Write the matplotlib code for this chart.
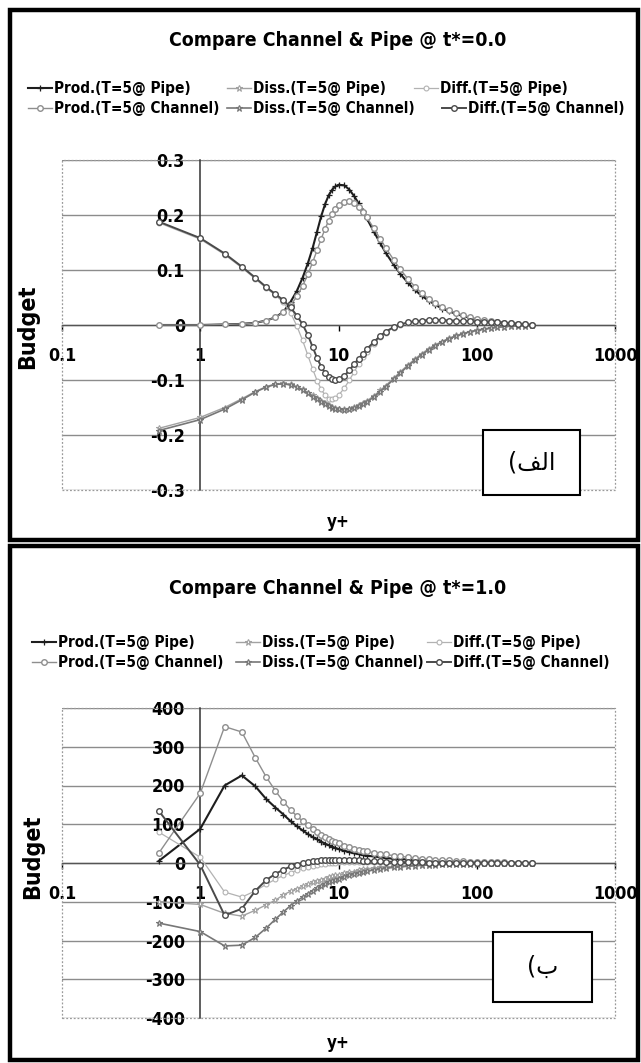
import matplotlib
matplotlib.use("Agg")
import matplotlib.pyplot as plt
from matplotlib.lines import Line2D
from matplotlib.patches import Rectangle
from matplotlib.ticker import NullLocator
from matplotlib.font_manager import FontProperties
from matplotlib.textpath import TextPath
from matplotlib import font_manager as fm

W, H, DPI = 641, 1063, 100

# ---------------------------------------------------------------- data
yplus = [0.5, 1.0, 1.5, 2.0, 2.5, 3.0, 3.5, 4.0, 4.5, 5.0,
         5.5, 6.0, 6.5, 7.0, 7.5, 8.0, 8.5, 9.0, 9.5, 10.0,
         11, 12, 13, 14, 15, 16, 18, 20, 22, 25,
         28, 32, 36, 40, 45, 50, 56, 63, 71, 80,
         90, 100, 112, 126, 141, 158, 178, 200, 224, 250]

# budget terms at t* = 0.0
prod_pipe_t0 = [0.000, 0.000, 0.001, 0.002, 0.004, 0.008, 0.014, 0.024, 0.042, 0.062,
                0.086, 0.112, 0.140, 0.170, 0.198, 0.220, 0.236, 0.246, 0.252, 0.255,
                0.254, 0.246, 0.234, 0.221, 0.207, 0.194, 0.170, 0.149, 0.131, 0.110,
                0.093, 0.076, 0.063, 0.053, 0.044, 0.037, 0.030, 0.025, 0.020, 0.016,
                0.013, 0.010, 0.008, 0.006, 0.005, 0.004, 0.003, 0.002, 0.001, 0.000]
diss_pipe_t0 = [-0.188, -0.168, -0.150, -0.134, -0.121, -0.112, -0.107, -0.106, -0.108, -0.112,
                -0.117, -0.123, -0.128, -0.133, -0.138, -0.142, -0.146, -0.149, -0.151, -0.152,
                -0.153, -0.152, -0.149, -0.146, -0.142, -0.138, -0.129, -0.119, -0.110, -0.097,
                -0.085, -0.072, -0.061, -0.052, -0.043, -0.036, -0.030, -0.024, -0.019, -0.015,
                -0.012, -0.009, -0.007, -0.005, -0.004, -0.003, -0.002, -0.001, -0.001, 0.000]
diff_pipe_t0 = [0.186, 0.156, 0.128, 0.104, 0.084, 0.067, 0.054, 0.041, 0.022, -0.002,
                -0.028, -0.055, -0.080, -0.101, -0.117, -0.128, -0.134, -0.135, -0.133, -0.128,
                -0.115, -0.100, -0.085, -0.071, -0.059, -0.049, -0.034, -0.022, -0.014, -0.005,
                0.000, 0.004, 0.006, 0.007, 0.008, 0.008, 0.008, 0.008, 0.007, 0.007,
                0.006, 0.006, 0.005, 0.005, 0.004, 0.004, 0.003, 0.002, 0.001, 0.000]
prod_chan_t0 = [0.000, 0.000, 0.001, 0.002, 0.004, 0.008, 0.014, 0.023, 0.036, 0.052,
                0.071, 0.092, 0.114, 0.136, 0.157, 0.175, 0.190, 0.202, 0.211, 0.218,
                0.224, 0.225, 0.221, 0.214, 0.205, 0.196, 0.176, 0.157, 0.140, 0.119,
                0.101, 0.083, 0.069, 0.058, 0.048, 0.040, 0.033, 0.027, 0.022, 0.018,
                0.014, 0.011, 0.009, 0.007, 0.005, 0.004, 0.003, 0.002, 0.001, 0.000]
diss_chan_t0 = [-0.192, -0.172, -0.153, -0.136, -0.122, -0.113, -0.108, -0.107, -0.109, -0.113,
                -0.118, -0.124, -0.130, -0.135, -0.140, -0.144, -0.147, -0.150, -0.152, -0.153,
                -0.154, -0.153, -0.151, -0.148, -0.144, -0.140, -0.131, -0.121, -0.112, -0.099,
                -0.087, -0.074, -0.063, -0.054, -0.045, -0.038, -0.031, -0.025, -0.020, -0.016,
                -0.012, -0.010, -0.008, -0.006, -0.004, -0.003, -0.002, -0.001, -0.001, 0.000]
diff_chan_t0 = [0.188, 0.158, 0.130, 0.106, 0.086, 0.069, 0.056, 0.045, 0.032, 0.017,
                0.001, -0.018, -0.040, -0.060, -0.076, -0.087, -0.095, -0.099, -0.100, -0.099,
                -0.093, -0.082, -0.071, -0.061, -0.052, -0.044, -0.031, -0.020, -0.012, -0.004,
                0.001, 0.005, 0.007, 0.008, 0.009, 0.009, 0.009, 0.008, 0.008, 0.007,
                0.007, 0.006, 0.006, 0.005, 0.005, 0.004, 0.003, 0.002, 0.001, 0.000]

# budget terms at t* = 1.0
prod_pipe_t1 = [5, 88, 200, 226, 198, 165, 143, 125, 108, 95,
                84, 75, 67, 61, 55, 50, 46, 42, 39, 36,
                32, 28, 25, 23, 21, 19, 17, 15, 13, 11,
                10, 9, 8, 7, 6, 5, 4.5, 4, 3.5, 3,
                2.5, 2, 1.7, 1.4, 1.1, 0.9, 0.7, 0.5, 0.3, 0]
diss_pipe_t1 = [-100, -107, -130, -137, -122, -108, -96, -82, -73, -66,
                -60, -55, -50, -46, -43, -40, -37, -34, -32, -30,
                -27, -24, -22, -18, -16.5, -15, -13, -11.5, -10.5, -9,
                -8, -6.5, -5.5, -4.8, -4, -3.4, -2.9, -2.4, -2, -1.6,
                -1.3, -1.0, -0.8, -0.6, -0.5, -0.4, -0.3, -0.2, -0.1, 0]
diff_pipe_t1 = [80, 15, -75, -88, -72, -55, -42, -32, -25, -19,
                -14, -10, -7, -5, -3, -2, -1, 0, 1, 1.5,
                2, 2.5, 3, 3, 3, 3, 3, 3, 2.5, 2.5,
                2, 2, 1.5, 1.5, 1.2, 1, 0.8, 0.6, 0.5, 0.4,
                0.3, 0.2, 0.2, 0.1, 0.1, 0.1, 0, 0, 0, 0]
prod_chan_t1 = [25, 180, 352, 338, 272, 222, 186, 158, 137, 121,
                108, 97, 88, 80, 73, 68, 63, 58, 54, 51,
                45, 41, 37, 34, 32, 30, 27, 24, 22, 19,
                17, 15, 13, 11.5, 10, 8.5, 7.5, 6.5, 5.5, 4.5,
                3.8, 3.2, 2.6, 2.1, 1.7, 1.3, 1.0, 0.7, 0.4, 0]
diss_chan_t1 = [-155, -177, -214, -212, -192, -168, -145, -126, -110, -98,
                -88, -79, -71, -65, -59, -54, -50, -46, -43, -40,
                -35, -31, -28, -25, -23, -21, -18, -15.5, -13.5, -11.5,
                -10, -8.3, -7, -6, -5, -4.3, -3.6, -3, -2.5, -2,
                -1.6, -1.3, -1.0, -0.8, -0.6, -0.5, -0.4, -0.3, -0.1, 0]
diff_chan_t1 = [135, -5, -135, -118, -72, -44, -28, -17, -9, -4,
                0, 3, 5, 6, 7, 8, 8, 8, 8, 8,
                8, 7.5, 7, 6.5, 6, 5.5, 5, 4, 3.5, 3,
                2.5, 2, 1.7, 1.5, 1.2, 1, 0.8, 0.6, 0.5, 0.4,
                0.3, 0.2, 0.2, 0.1, 0.1, 0.1, 0, 0, 0, 0]

series_labels = ["Prod.(T=5@ Pipe)", "Diss.(T=5@ Pipe)", "Diff.(T=5@ Pipe)",
                 "Prod.(T=5@ Channel)", "Diss.(T=5@ Channel)", "Diff.(T=5@ Channel)"]

titles = ["Compare Channel & Pipe @ t*=0.0", "Compare Channel & Pipe @ t*=1.0"]
x_ticks = [0.1, 1, 10, 100, 1000]
x_tick_labels = ["0.1", "1", "10", "100", "1000"]
y_ticks_t0 = [-0.3, -0.2, -0.1, 0.0, 0.1, 0.2, 0.3]
y_tick_labels_t0 = ["-0.3", "-0.2", "-0.1", "0", "0.1", "0.2", "0.3"]
y_ticks_t1 = [-400, -300, -200, -100, 0, 100, 200, 300, 400]
y_tick_labels_t1 = ["-400", "-300", "-200", "-100", "0", "100", "200", "300", "400"]
panel_tags = ["(\uFED2\uFEDF\uFE8D", "(\uFE8F"]   # visual forms of "الف)" and "ب)"


# ---------------------------------------------------------------- fonts
def _weight(f):
    if isinstance(f.weight, int):
        return f.weight
    return {"bold": 700, "heavy": 800, "black": 900, "semibold": 600, "demibold": 600}.get(str(f.weight).lower(), 400)


def narrow_bold_font():
    """A bold, narrow sans face if one is installed, else Liberation Sans Bold."""
    entries = fm.fontManager.ttflist
    for f in entries:
        if f.name == "Liberation Sans Narrow" and _weight(f) >= 700 and f.style == "normal":
            return FontProperties(fname=f.fname)
    for fam in ["Noto Sans", "DejaVu Sans", "Open Sans", "Roboto", "Lato"]:
        for want in ("condensed", "semi-condensed"):
            for f in entries:
                if (f.name == fam and str(f.stretch) == want and f.style == "normal"
                        and 700 <= _weight(f) < 800):
                    return FontProperties(fname=f.fname)
    return FontProperties(family="Liberation Sans", weight="bold")


BASE_FP = narrow_bold_font()


def fitted(text, width_px):
    """Font properties whose rendering of `text` is about `width_px` wide."""
    w = TextPath((0, 0), text, size=10, prop=BASE_FP).get_extents().width * DPI / 72.0
    fp = BASE_FP.copy()
    fp.set_size(10 * width_px / w)
    return fp


FP_TITLE = fitted("Compare Channel & Pipe @ t*=0.0", 335)
FP_LEGEND = fitted("Prod.(T=5@ Channel)", 163)
FP_TICK = fitted("1000", 42)
FP_BUDGET = fitted("Budget", 82)
FP_XLABEL = fitted("y+", 21)

styles = {
    "Prod.(T=5@ Pipe)":    dict(color="#1e1e1e", marker="+", ms=4.5, mew=0.9, lw=1.5, mfc="none"),
    "Diss.(T=5@ Pipe)":    dict(color="#a2a2a2", marker="*", ms=5.0, mew=0.8, lw=1.0, mfc="white"),
    "Diff.(T=5@ Pipe)":    dict(color="#b2b2b2", marker="o", ms=3.5, mew=0.8, lw=0.9, mfc="white"),
    "Prod.(T=5@ Channel)": dict(color="#8e8e8e", marker="o", ms=4.0, mew=1.0, lw=1.0, mfc="white"),
    "Diss.(T=5@ Channel)": dict(color="#777777", marker="*", ms=5.0, mew=0.8, lw=1.2, mfc="#cfcfcf"),
    "Diff.(T=5@ Channel)": dict(color="#4a4a4a", marker="o", ms=4.0, mew=1.0, lw=1.4, mfc="white"),
}


def fx(x):
    return x / W


def fy(y):
    return 1 - y / H


panels = [
    dict(border=(10, 10, 638, 540), title_y=40, rows=(88, 108),
         legend_x=[(28, 28), (227, 227), (414, 442)],
         axes=(62, 160, 615, 490), budget=(28, 327), xlabel_y=522,
         box=(483, 430, 580, 495),
         data=[prod_pipe_t0, diss_pipe_t0, diff_pipe_t0, prod_chan_t0, diss_chan_t0, diff_chan_t0],
         yticks=y_ticks_t0, ylabels=y_tick_labels_t0, ylim=(-0.3, 0.3)),
    dict(border=(10, 546, 638, 1060), title_y=588, rows=(642, 662),
         legend_x=[(32, 32), (236, 236), (427, 427)],
         axes=(62, 708, 615, 1018), budget=(33, 857), xlabel_y=1043,
         box=(493, 932, 592, 1002),
         data=[prod_pipe_t1, diss_pipe_t1, diff_pipe_t1, prod_chan_t1, diss_chan_t1, diff_chan_t1],
         yticks=y_ticks_t1, ylabels=y_tick_labels_t1, ylim=(-400, 400)),
]

fig = plt.figure(figsize=(W / DPI, H / DPI), dpi=DPI)
fig.patch.set_facecolor("white")

for k, p in enumerate(panels):
    x0, y0, x1, y1 = p["axes"]
    ax = fig.add_axes([fx(x0), fy(y1), (x1 - x0) / W, (y1 - y0) / H])
    ax.set_facecolor("white")
    ax.set_xscale("log")

    # axes cross at y+ = 1 and budget = 0
    ax.spines["left"].set_position(("data", 1))
    ax.spines["left"].set_color("#333333")
    ax.spines["left"].set_linewidth(1.1)
    ax.spines["bottom"].set_position(("data", 0))
    ax.spines["bottom"].set_color("#555555")
    ax.spines["bottom"].set_linewidth(1.0)
    for s in ("top", "right"):
        ax.spines[s].set_visible(False)

    for name, vals in zip(series_labels, p["data"]):
        st = styles[name]
        ax.plot(yplus, vals, color=st["color"], lw=st["lw"], marker=st["marker"],
                ms=st["ms"], mew=st["mew"], mfc=st["mfc"], mec=st["color"], zorder=3)

    ax.set_xlim(0.1, 1000)
    ax.set_ylim(*p["ylim"])
    ax.set_yticks(p["yticks"])
    ax.set_yticklabels(p["ylabels"])
    ax.set_xticks(x_ticks)
    ax.set_xticklabels(x_tick_labels)
    ax.xaxis.set_minor_locator(NullLocator())
    ax.yaxis.set_minor_locator(NullLocator())
    ax.yaxis.grid(True, color="#8c8c8c", lw=1.0, zorder=0)
    ax.set_axisbelow(True)
    ax.tick_params(axis="y", length=0, pad=11, colors="black")
    ax.tick_params(axis="x", length=4, width=1, direction="out", pad=12, colors="black")
    for lbl in ax.get_xticklabels() + ax.get_yticklabels():
        lbl.set_fontproperties(FP_TICK)

    ax.add_patch(Rectangle((0, 0), 1, 1, transform=ax.transAxes, fill=False,
                           ec="#9a9a9a", lw=0.9, ls=(0, (1.5, 1.5)), zorder=1, clip_on=False))

    # panel frame
    bx0, by0, bx1, by1 = p["border"]
    fig.add_artist(Rectangle((fx(bx0), fy(by1)), (bx1 - bx0) / W, (by1 - by0) / H,
                             transform=fig.transFigure, fill=False, ec="black", lw=3.2))

    # title and axis labels
    fig.text(fx(338), fy(p["title_y"]), titles[k], ha="center", va="center",
             fontproperties=FP_TITLE)
    fig.text(fx(p["budget"][0]), fy(p["budget"][1]), "Budget", rotation=90,
             ha="center", va="center", fontproperties=FP_BUDGET)
    fig.text(fx(338), fy(p["xlabel_y"]), "y+", ha="center", va="center",
             fontproperties=FP_XLABEL)

    # legend, three entries per row
    for i, name in enumerate(series_labels):
        row, col = divmod(i, 3)
        yy = p["rows"][row]
        xs = p["legend_x"][col][row]
        st = styles[name]
        fig.add_artist(Line2D([fx(xs), fx(xs + 12), fx(xs + 24)], [fy(yy)] * 3,
                              transform=fig.transFigure, color=st["color"], lw=st["lw"],
                              marker=st["marker"], markevery=[1], ms=st["ms"], mew=st["mew"],
                              mfc=st["mfc"], mec=st["color"]))
        fig.text(fx(xs + 26), fy(yy), name, ha="left", va="center", fontproperties=FP_LEGEND)

    # panel tag box
    qx0, qy0, qx1, qy1 = p["box"]
    fig.add_artist(Rectangle((fx(qx0), fy(qy1)), (qx1 - qx0) / W, (qy1 - qy0) / H,
                             transform=fig.transFigure, fc="white", ec="black", lw=1.5, zorder=10))
    fig.text(fx((qx0 + qx1) / 2), fy((qy0 + qy1) / 2), panel_tags[k], ha="center", va="center",
             fontsize=17, family=["DejaVu Sans", "Noto Sans"], zorder=11)

fig.savefig("out.png", dpi=DPI, facecolor="white")
